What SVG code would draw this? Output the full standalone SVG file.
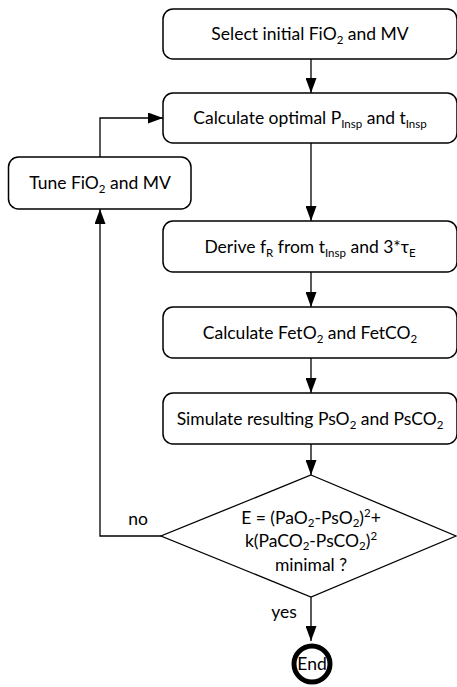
<svg xmlns="http://www.w3.org/2000/svg" width="457" height="687" viewBox="0 0 457 687">
<style>
.box{fill:#fff;stroke:#000;stroke-width:1.5}
.t{font-family:Lato,"Liberation Sans",sans-serif;font-size:17.5px;fill:#000;text-anchor:middle}
.lbl{font-family:Lato,"Liberation Sans",sans-serif;font-size:17.5px;fill:#000;text-anchor:middle}
.s{font-size:11.5px}
.c{fill:none;stroke:#000;stroke-width:1.3}
</style>
<defs>
<marker id="arr" viewBox="0 0 15 11" refX="15" refY="5.5" markerWidth="15" markerHeight="11" markerUnits="userSpaceOnUse" orient="auto">
<path d="M0,0 L15,5.5 L0,11 z" fill="#000"/>
</marker>
</defs>
<rect width="457" height="687" fill="#fff"/>
<g id="connectors">
<line class="c" x1="311" y1="59" x2="311" y2="93" marker-end="url(#arr)"/>
<line class="c" x1="311" y1="143" x2="311" y2="221" marker-end="url(#arr)"/>
<line class="c" x1="311" y1="272" x2="311" y2="307" marker-end="url(#arr)"/>
<line class="c" x1="311" y1="358" x2="311" y2="393" marker-end="url(#arr)"/>
<line class="c" x1="311" y1="444" x2="311" y2="475" marker-end="url(#arr)"/>
<line class="c" x1="311" y1="597" x2="311" y2="641" marker-end="url(#arr)"/>
<polyline class="c" points="161,536 100,536 100,209" marker-end="url(#arr)"/>
<polyline class="c" points="100,157 100,118 163,118" marker-end="url(#arr)"/>
<text class="lbl" x="138" y="525">no</text>
<text class="lbl" x="284" y="618">yes</text>
</g>
<g id="n1">
<rect class="box" x="163" y="9" width="294" height="50" rx="10"/>
<text class="t" x="310" y="40">Select initial FiO<tspan class="s" dy="4">2</tspan><tspan dy="-4"> and MV</tspan></text>
</g>
<g id="n2">
<rect class="box" x="163" y="93" width="294" height="50" rx="10"/>
<text class="t" x="310" y="124">Calculate optimal P<tspan class="s" dy="4">Insp</tspan><tspan dy="-4"> and t</tspan><tspan class="s" dy="4">Insp</tspan></text>
</g>
<g id="tune">
<rect class="box" x="8.5" y="157" width="182.5" height="52" rx="10"/>
<text class="t" x="100" y="189">Tune FiO<tspan class="s" dy="4">2</tspan><tspan dy="-4"> and MV</tspan></text>
</g>
<g id="n3">
<rect class="box" x="163" y="221" width="294" height="51" rx="10"/>
<text class="t" x="310" y="252.5">Derive f<tspan class="s" dy="4">R</tspan><tspan dy="-4"> from t</tspan><tspan class="s" dy="4">Insp</tspan><tspan dy="-4"> and 3*τ</tspan><tspan class="s" dy="4">E</tspan></text>
</g>
<g id="n4">
<rect class="box" x="163" y="307" width="294" height="51" rx="10"/>
<text class="t" x="310" y="338.5">Calculate FetO<tspan class="s" dy="4">2</tspan><tspan dy="-4"> and FetCO</tspan><tspan class="s" dy="4">2</tspan></text>
</g>
<g id="n5">
<rect class="box" x="163" y="393" width="294" height="51" rx="10"/>
<text class="t" x="310" y="424.5">Simulate resulting PsO<tspan class="s" dy="4">2</tspan><tspan dy="-4"> and PsCO</tspan><tspan class="s" dy="4">2</tspan></text>
</g>
<g id="decision">
<polygon points="311,475 456,536 311,597 161,536" fill="#fff" stroke="#000" stroke-width="1.3"/>
<text class="t" x="311" y="524">E = (PaO<tspan class="s" dy="3">2</tspan><tspan dy="-3">-PsO</tspan><tspan class="s" dy="3">2</tspan><tspan dy="-3">)</tspan><tspan class="s" dy="-7">2</tspan><tspan dy="7">+</tspan></text>
<text class="t" x="311" y="547">k(PaCO<tspan class="s" dy="3">2</tspan><tspan dy="-3">-PsCO</tspan><tspan class="s" dy="3">2</tspan><tspan dy="-3">)</tspan><tspan class="s" dy="-7">2</tspan></text>
<text class="t" x="311" y="571">minimal ?</text>
</g>
<g id="end">
<circle cx="312" cy="664" r="18" fill="#fff" stroke="#000" stroke-width="5"/>
<text class="t" x="312" y="670">End</text>
</g>
</svg>
